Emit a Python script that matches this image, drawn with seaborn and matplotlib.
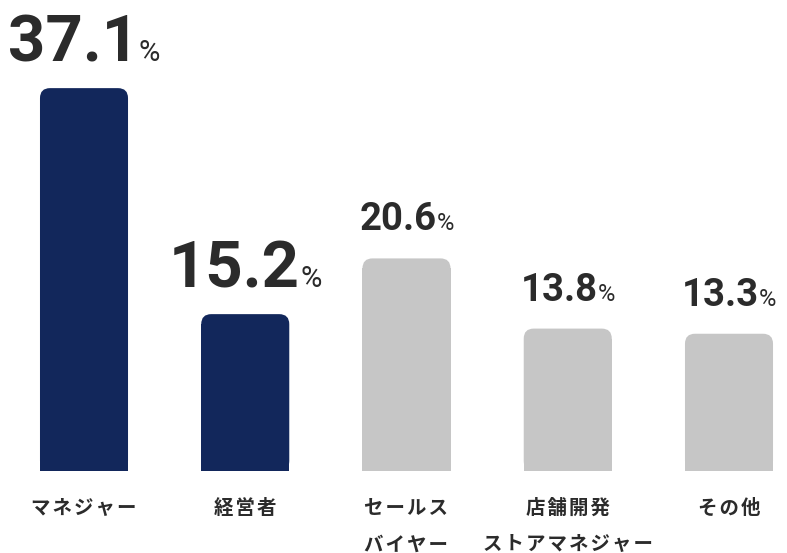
import matplotlib
matplotlib.use("Agg")
import matplotlib.pyplot as plt
import seaborn as sns
import pandas as pd
from matplotlib.patches import FancyBboxPatch

categories = ["マネジャー", "経営者", "セールス\nバイヤー", "店舗開発\nストアマネジャー", "その他"]
values = [37.1, 15.2, 20.6, 13.8, 13.3]
value_labels = ["37.1", "15.2", "20.6", "13.8", "13.3"]
highlight = [True, True, False, False, False]

NAVY = "#12275b"
GRAY = "#c6c6c6"
TEXT = "#2b2b2b"

sns.set_theme(style="white")
plt.rcParams["font.family"] = ["Noto Sans CJK JP", "DejaVu Sans"]

W, H, DPI = 787, 553, 100
fig = plt.figure(figsize=(W / DPI, H / DPI), dpi=DPI)
bottom_px = 82
ax = fig.add_axes([0, bottom_px / H, 1, 1 - bottom_px / H])

df = pd.DataFrame({"cat": categories, "val": values})
palette = [NAVY if h else GRAY for h in highlight]
sns.barplot(data=df, x="cat", y="val", hue="cat", palette=palette, legend=False,
            width=0.546, ax=ax, saturation=1)

spacing_px = 161.25
ax.set_xlim(-84 / spacing_px, (W - 84) / spacing_px)
ypx = 10.32
ax.set_ylim(0, (H - bottom_px) / ypx)
ax.axis("off")

# rounded top corners
r_px = 10
rx = r_px / spacing_px
ry = r_px / ypx
for p in list(ax.patches):
    x, y0, w, h = p.get_x(), p.get_y(), p.get_width(), p.get_height()
    fc = p.get_facecolor()
    fb = FancyBboxPatch((x, y0), w, h, boxstyle=f"round,pad=0,rounding_size={rx}",
                        mutation_aspect=ry / rx, facecolor=fc, edgecolor="none",
                        linewidth=0)
    ax.add_patch(fb)
    p.set_height(h - ry)
    p.set_edgecolor("none")

# category labels (letter-spaced with hair spaces)
def spaced(s):
    return "\n".join("\u200a".join(line) for line in s.split("\n"))

for i, c in enumerate(categories):
    ax.annotate(spaced(c), xy=(i, 0), xytext=(0, -28), textcoords="offset pixels",
                ha="center", va="top", fontsize=14, fontweight="bold",
                color=TEXT, linespacing=2.15,
                fontfamily=["Noto Sans CJK JP", "DejaVu Sans"], annotation_clip=False)

# value labels
fig.canvas.draw()
renderer = fig.canvas.get_renderer()
for i, (v, lab, hl) in enumerate(zip(values, value_labels, highlight)):
    big = hl
    nsize = 47 if big else 27.5
    psize = 21 if big else 17
    gap = 27 if big else 28
    num = ax.annotate(lab, xy=(i, v), xytext=(0, gap), textcoords="offset pixels",
                      ha="left", va="baseline", fontsize=nsize, fontweight="semibold",
                      color=TEXT, fontfamily="Roboto", annotation_clip=False)
    pct = ax.annotate("%", xy=(i, v), xytext=(0, gap), textcoords="offset pixels",
                      ha="left", va="baseline", fontsize=psize, fontweight="normal",
                      color=TEXT, fontfamily="Roboto", annotation_clip=False)
    w1 = num.get_window_extent(renderer).width
    w2 = pct.get_window_extent(renderer).width
    sep = 0
    total = w1 + w2 + sep
    num.xyann = (-total / 2, gap)
    pct.xyann = (-total / 2 + w1 + sep, gap)

fig.savefig("out.png", dpi=DPI, facecolor="white")
